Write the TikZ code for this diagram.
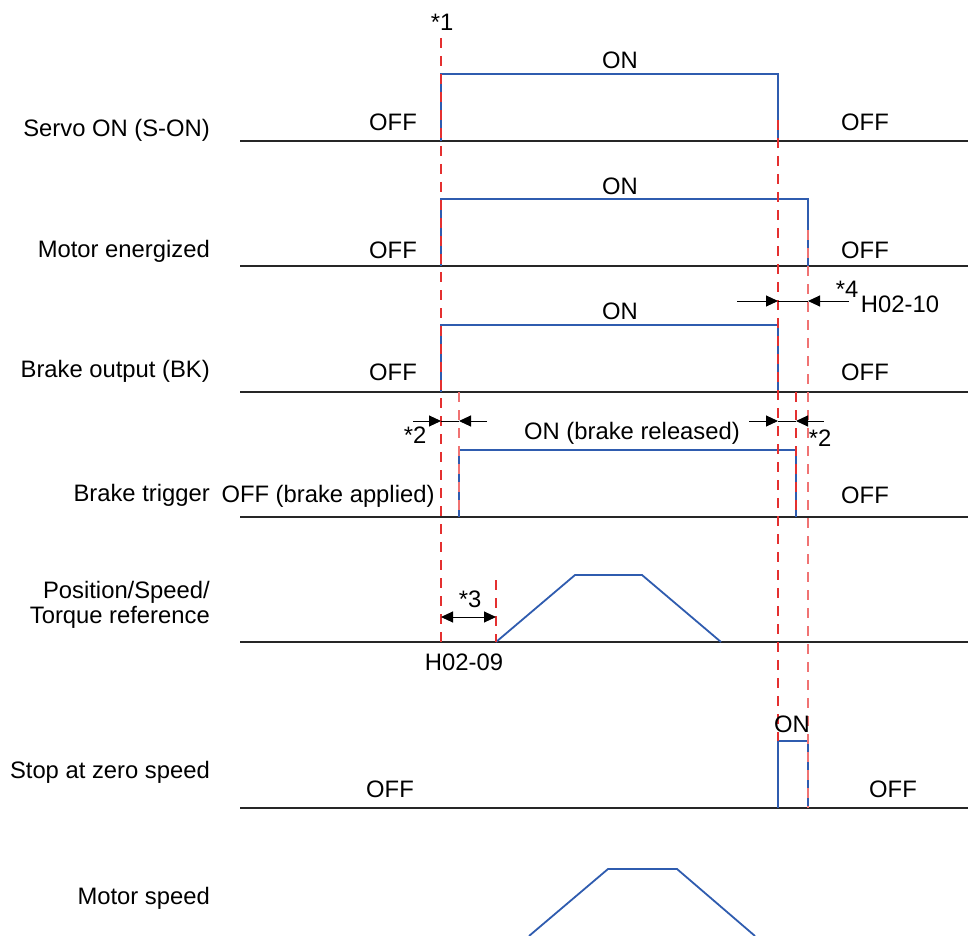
\documentclass[tikz,border=0pt]{standalone}
\usepackage{fontspec}
\setmainfont{Liberation Sans}
\usetikzlibrary{arrows.meta}
\definecolor{sigblue}{RGB}{47,92,175}
\definecolor{guidered}{RGB}{228,48,48}
\definecolor{guidepink}{RGB}{240,115,115}
\begin{document}
\begin{tikzpicture}[x=1pt,y=-1pt,
  txt/.style={font=\fontsize{23.8}{28}\selectfont, inner sep=0pt},
  lbl/.style={txt, anchor=base east},
  st/.style={txt, anchor=base},
  axisline/.style={black!85, line width=1.2pt},
  sig/.style={sigblue, line width=1.8pt, line join=miter},
  guide/.style={guidered, line width=1.2pt, dash pattern=on 10pt off 8pt},
  guidel/.style={guidepink, line width=1.2pt, dash pattern=on 10pt off 8pt},
  dim/.style={black, line width=1pt},
  tip/.style={-{Triangle[length=12pt,width=11pt]}}
]
\useasboundingbox (0,0) rectangle (971,936);
\clip (0,0) rectangle (971,936);

% row labels
\node[lbl] (lservo) at (210,137) {Servo ON (S-ON)};
\node[lbl] (lmotor) at (210,257) {Motor energized};
\node[lbl] (lbk) at (210,377) {Brake output (BK)};
\node[lbl] (ltrig) at (210,501) {Brake trigger};
\node[lbl] (lref1) at (210,598) {Position/Speed/};
\node[lbl] (lref2) at (210,623) {Torque reference};
\node[lbl] (lstop) at (210,778) {Stop at zero speed};
\node[lbl] (lspd) at (210,904) {Motor speed};

% base lines
\foreach \y in {141,266,392,517,642,808}
  \draw[axisline] (240,\y) -- (968,\y);

% signals
\draw[sig] (441,141) -- (441,74) -- (778,74) -- (778,141);
\draw[sig] (441,266) -- (441,199) -- (808,199) -- (808,266);
\draw[sig] (441,392) -- (441,325) -- (778,325) -- (778,392);
\draw[sig] (459,517) -- (459,450) -- (796,450) -- (796,517);
\draw[sig] (496,642) -- (575,575) -- (642,575) -- (721,642);
\draw[sig] (778,808) -- (778,741) -- (808,741) -- (808,808);
\draw[sig] (529,936) -- (608,869) -- (677,869) -- (755,936);

% guide lines
\draw[guide] (441,38) -- (441,642);
\draw[guidel] (459,392) -- (459,517);
\draw[guide] (496,580) -- (496,642);
\draw[guide] (778,120) -- (778,741);
\draw[guidel] (808,230) -- (808,808);
\draw[guide] (796,392) -- (796,517);

% state labels
\node[st] (s1off) at (393,131) {OFF};
\node[st] (s1on) at (620,69) {ON};
\node[st] (s1off2) at (865,131) {OFF};
\node[st] (s2off) at (393,258) {OFF};
\node[st] (s2on) at (620,194) {ON};
\node[st] (s2off2) at (865,258) {OFF};
\node[st] (s3off) at (393,380) {OFF};
\node[st] (s3on) at (620,319) {ON};
\node[st] (s3off2) at (865,380) {OFF};
\node[st] (s4off) at (328,502) {OFF (brake applied)};
\node[st] (s4on) at (632,439) {ON (brake released)};
\node[st] (s4off2) at (865,503) {OFF};
\node[st] (s6off) at (390,797) {OFF};
\node[st] (s6on) at (792,732) {ON};
\node[st] (s6off2) at (893,797) {OFF};

% dimension marks
\coordinate (a4l) at (737,301); \coordinate (a4a) at (778,301);
\coordinate (a4b) at (808,301); \coordinate (a4r) at (849,301);
\draw[dim,tip] (a4l) -- (a4a);
\draw[dim] (a4a) -- (a4b);
\draw[dim,tip] (a4r) -- (a4b);
\node[st] (n4) at (847,297) {*4};
\node[st] (h0210) at (900,312) {H02-10};

\coordinate (a2l) at (413,421); \coordinate (a2a) at (441,421);
\coordinate (a2b) at (459,421); \coordinate (a2r) at (487,421);
\draw[dim,tip] (a2l) -- (a2a);
\draw[dim] (a2a) -- (a2b);
\draw[dim,tip] (a2r) -- (a2b);
\node[st] (n2a) at (415,443) {*2};

\coordinate (b2l) at (749,421); \coordinate (b2a) at (778,421);
\coordinate (b2b) at (796,421); \coordinate (b2r) at (824,421);
\draw[dim,tip] (b2l) -- (b2a);
\draw[dim] (b2a) -- (b2b);
\draw[dim,tip] (b2r) -- (b2b);
\node[st] (n2b) at (820,446) {*2};

\coordinate (a3l) at (441,617); \coordinate (a3r) at (496,617);
\draw[dim,{Triangle[length=12pt,width=11pt]}-{Triangle[length=12pt,width=11pt]}] (a3l) -- (a3r);
\node[st] (n3) at (470,607) {*3};
\node[st] (h0209) at (464,670) {H02-09};

\node[st] (n1) at (442,31) {*1};
\end{tikzpicture}
\end{document}
